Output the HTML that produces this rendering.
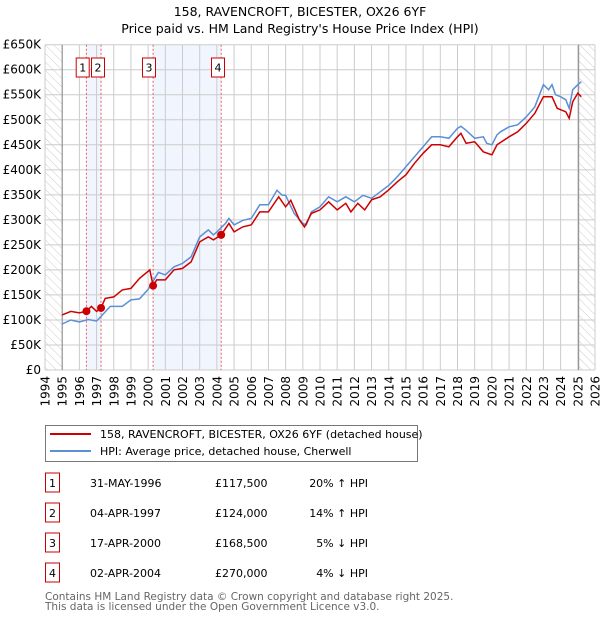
<!DOCTYPE html>
<html><head><meta charset="utf-8"><style>
body{margin:0;background:#fff;font-family:"Liberation Sans","DejaVu Sans",sans-serif;}
svg{display:block}
</style></head><body>
<svg id="c" width="600" height="620" xmlns="http://www.w3.org/2000/svg" font-family="DejaVu Sans, Liberation Sans, sans-serif">
<defs><pattern id="hatch" width="6" height="6" patternUnits="userSpaceOnUse" patternTransform="rotate(-45)"><line x1="0" y1="0" x2="0" y2="6" stroke="#ccc" stroke-width="1"/></pattern></defs>
<text x="300" y="16" text-anchor="middle" font-size="12.5" fill="#000">158, RAVENCROFT, BICESTER, OX26 6YF</text>
<text x="300" y="33" text-anchor="middle" font-size="12.5" fill="#000">Price paid vs. HM Land Registry's House Price Index (HPI)</text>
<g id="plot"></g>
<g>
<rect x="45.5" y="425.5" width="372" height="36" fill="#fff" stroke="#777"/>
<line x1="50" y1="434" x2="91" y2="434" stroke="#cc0000" stroke-width="2"/>
<text x="100" y="438" font-size="11">158, RAVENCROFT, BICESTER, OX26 6YF (detached house)</text>
<line x1="50" y1="451" x2="91" y2="451" stroke="#5b8fd6" stroke-width="2"/>
<text x="100" y="455" font-size="11">HPI: Average price, detached house, Cherwell</text>
</g>
<g id="table" font-size="11"></g>
<text x="45" y="600" font-size="10.5" fill="#666">Contains HM Land Registry data © Crown copyright and database right 2025.</text>
<text x="45" y="610" font-size="10.5" fill="#666">This data is licensed under the Open Government Licence v3.0.</text>
</svg>
<script>
const hpiYears=[1995,1995.5,1996,1996.5,1997,1997.2,1997.8,1998.5,1999,1999.5,2000,2000.6,2001,2001.5,2002,2002.5,2003,2003.5,2003.8,2004,2004.5,2004.7,2005,2005.5,2006,2006.5,2007,2007.5,2007.8,2008,2008.5,2009,2009.2,2009.5,2010,2010.5,2011,2011.5,2012,2012.5,2013,2013.5,2014,2014.5,2015,2015.5,2016,2016.5,2017,2017.5,2018,2018.2,2018.5,2019,2019.5,2019.7,2020,2020.3,2020.5,2021,2021.5,2022,2022.5,2023,2023.3,2023.5,2023.7,2024,2024.3,2024.5,2024.7,2025,2025.2];
const hpiValues=[92,100,96,101,98,105,127,127,140,142,161,195,190,206,213,226,266,280,270,276,293,303,290,299,303,330,330,359,349,349,313,293,290,316,326,346,336,346,336,349,343,356,369,386,406,426,446,466,466,463,483,487,479,463,466,453,450,470,476,486,490,506,526,570,560,570,550,546,540,523,560,570,576];
const ppYears=[1995,1995.5,1996,1996.41,1996.7,1997,1997.26,1997.5,1998,1998.5,1999,1999.5,2000.1,2000.29,2000.5,2001,2001.5,2002,2002.5,2003,2003.5,2003.8,2004.25,2004.7,2005,2005.5,2006,2006.5,2007,2007.6,2008,2008.3,2008.8,2009.1,2009.5,2010,2010.5,2011,2011.5,2011.8,2012.2,2012.6,2013,2013.5,2014,2014.5,2015,2015.5,2016,2016.5,2017,2017.5,2018,2018.2,2018.5,2019,2019.5,2020,2020.3,2021,2021.5,2022,2022.5,2023,2023.5,2023.8,2024.3,2024.5,2024.7,2025,2025.2];
const ppValues=[110,117,114,117.5,127,117,124,143,146,160,163,183,200,168.5,180,180,200,203,216,256,266,260,270,293,276,286,290,316,316,346,326,339,300,286,313,320,336,320,333,316,333,320,340,346,360,376,390,413,433,450,450,446,466,473,453,456,436,430,450,466,476,493,513,546,546,523,516,503,536,553,546];
const saleYears=[1996.41,1997.26,2000.29,2004.25];
const saleValues=[117.5,124,168.5,270];
const saleLabels=["1","2","3","4"];
const saleDates=["31-MAY-1996","04-APR-1997","17-APR-2000","02-APR-2004"];
const salePrices=["£117,500","£124,000","£168,500","£270,000"];
const saleHpi=["20% ↑ HPI","14% ↑ HPI","5% ↓ HPI","4% ↓ HPI"];
const yTicks=[0,50,100,150,200,250,300,350,400,450,500,550,600,650];
const yTickLabels=["£0","£50K","£100K","£150K","£200K","£250K","£300K","£350K","£400K","£450K","£500K","£550K","£600K","£650K"];
const xTicks=[1994,1995,1996,1997,1998,1999,2000,2001,2002,2003,2004,2005,2006,2007,2008,2009,2010,2011,2012,2013,2014,2015,2016,2017,2018,2019,2020,2021,2022,2023,2024,2025,2026];

const L=45,R=595,T=44.7,B=370;
const X=y=>L+(y-1994)*(R-L)/32;
const Y=v=>B-v*(B-T)/650;
const NS="http://www.w3.org/2000/svg";
const g=document.getElementById('plot');
function mk(tag,attrs,parent){const e=document.createElementNS(NS,tag);for(const k in attrs)e.setAttribute(k,attrs[k]);(parent||g).appendChild(e);return e;}
let e=mk('rect',{x:L,y:T,width:X(1995)-L,height:B-T,fill:'url(#hatch)'});


e=mk('rect',{x:X(2025.05),y:T,width:R-X(2025.05),height:B-T,fill:'url(#hatch)'});


for(const [a,b] of [[0,1],[2,3]]){
 e=mk('rect',{x:X(saleYears[a]),y:T,width:X(saleYears[b])-X(saleYears[a]),height:B-T,fill:'#f1f5fd'});
 
 
}
yTicks.forEach((v,i)=>{
 e=mk('line',{x1:L,x2:R,y1:Y(v),y2:Y(v),stroke:'#ccc','stroke-width':1});
 
 
 e=mk('text',{x:L-4,y:Y(v)+4,'text-anchor':'end','font-size':12});
 e.textContent=yTickLabels[i];
 
 
});
xTicks.forEach(t=>{
 e=mk('line',{x1:X(t),x2:X(t),y1:T,y2:B,stroke:'#ccc','stroke-width':1});
 
 
 e=mk('text',{x:0,y:0,'text-anchor':'end','font-size':12,transform:`translate(${X(t)+4.5},${B+6}) rotate(-90)`});
 e.textContent=t;
 
 
});
e=mk('line',{x1:X(1995),x2:X(1995),y1:T,y2:B,stroke:'#888','stroke-width':1});


e=mk('line',{x1:X(2025.05),x2:X(2025.05),y1:T,y2:B,stroke:'#888','stroke-width':1});


const boxX=[82.7,98,149,218];
saleYears.forEach((y,i)=>{
 e=mk('line',{x1:X(y),x2:X(y),y1:T,y2:B,stroke:'#e06060','stroke-dasharray':'2,2','stroke-width':1});
 
 
 e=mk('rect',{x:boxX[i]-6.5,y:58,width:13,height:19,fill:'#fff',stroke:'#cc0000'});
 
 
 e=mk('text',{x:boxX[i],y:71.5,'text-anchor':'middle','font-size':11});
 e.textContent=saleLabels[i];
 
 
});
const path=(xs,vs)=>xs.map((x,i)=>(i?'L':'M')+X(x).toFixed(1)+','+Y(vs[i]).toFixed(1)).join('');
e=mk('path',{d:path(hpiYears,hpiValues),fill:'none',stroke:'#5b8fd6','stroke-width':1.5});


e=mk('path',{d:path(ppYears,ppValues),fill:'none',stroke:'#cc0000','stroke-width':1.5});


saleYears.forEach((y,i)=>{
 e=mk('circle',{cx:X(y),cy:Y(saleValues[i]),r:4,fill:'#cc0000'});
 
 
});
const tb=document.getElementById('table');
saleLabels.forEach((l,i)=>{
 const cy=483+i*30;
 e=mk('rect',{x:45.5,y:cy-10,width:14,height:19,fill:'#fff',stroke:'#cc0000'},tb);
 
 
 e=mk('text',{x:52.5,y:cy+4,'text-anchor':'middle'},tb);e.textContent=l;
 
 
 e=mk('text',{x:90,y:cy+4},tb);e.textContent=saleDates[i];
 
 
 e=mk('text',{x:215,y:cy+4},tb);e.textContent=salePrices[i];
 
 
 e=mk('text',{x:368,y:cy+4,'text-anchor':'end'},tb);e.textContent=saleHpi[i];
 
 
});
</script>
</body></html>
